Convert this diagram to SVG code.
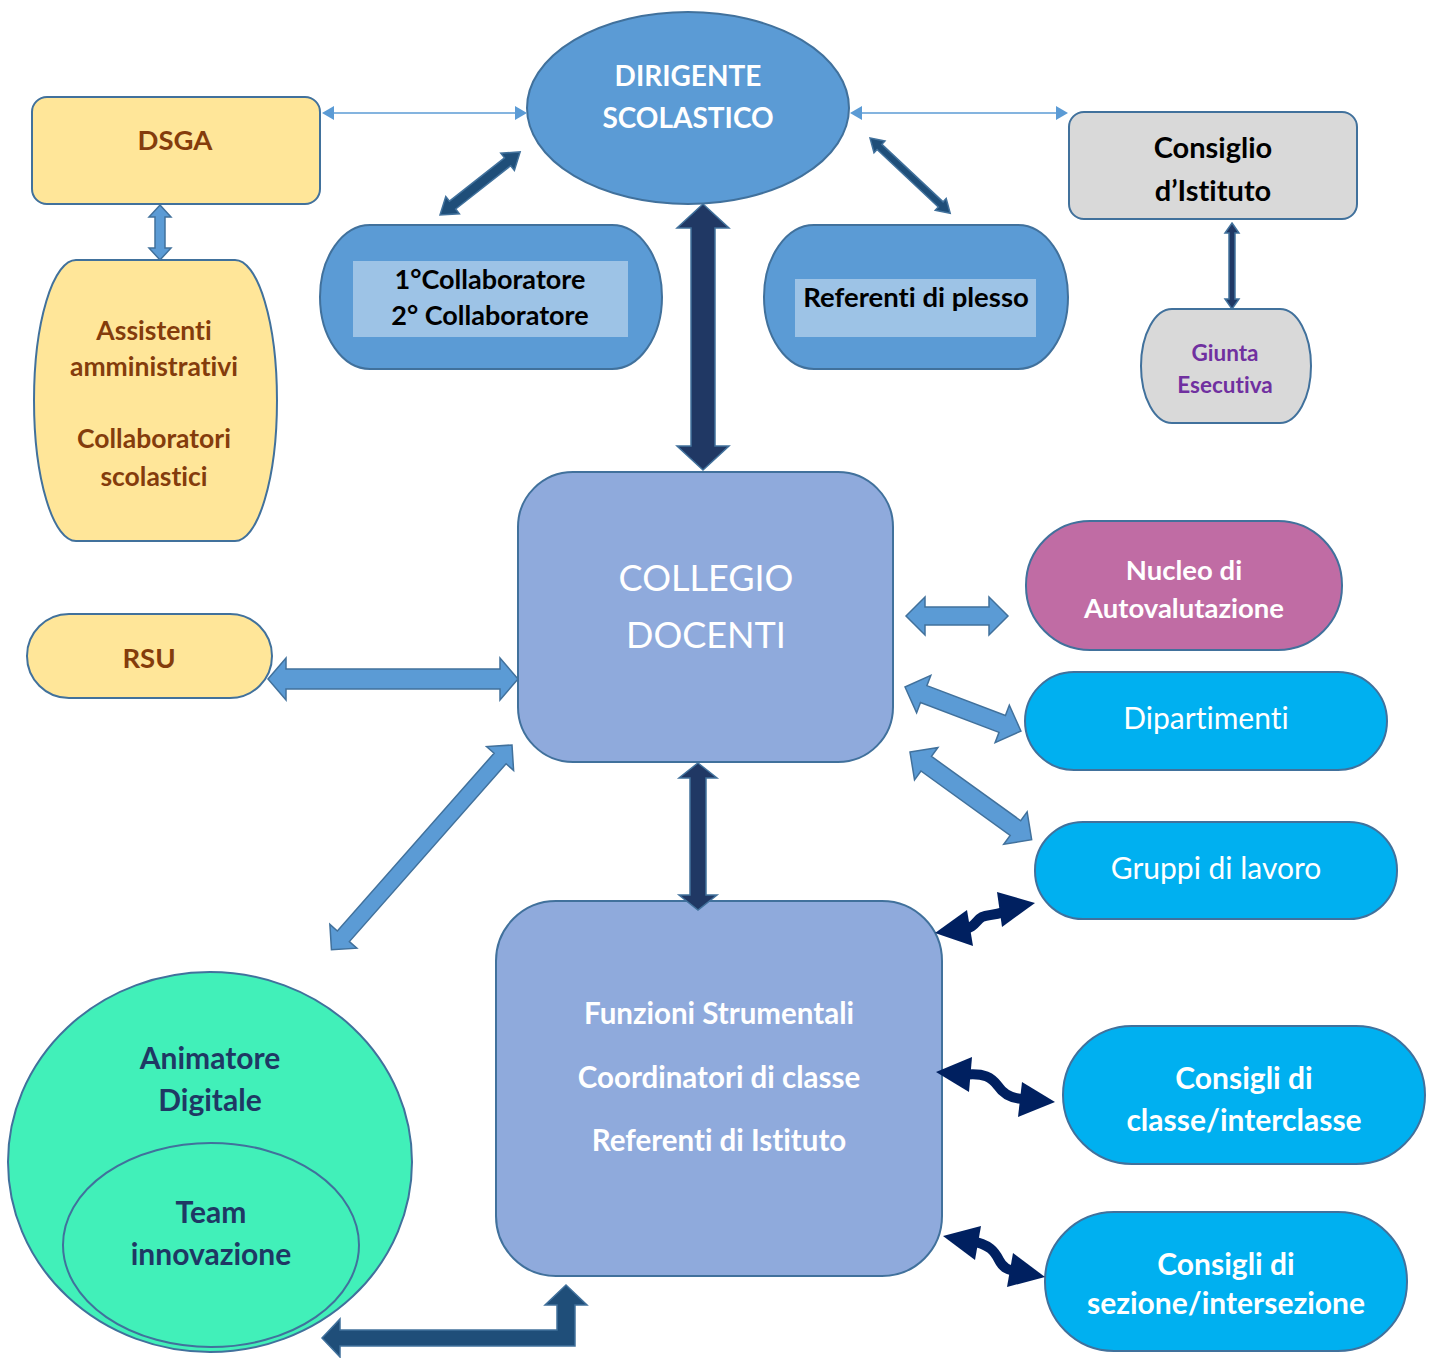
<svg xmlns="http://www.w3.org/2000/svg" width="1435" height="1358" viewBox="0 0 1435 1358">
<style>
text{font-family:Lato,"Open Sans","Liberation Sans",sans-serif;text-anchor:middle;font-variant-ligatures:none}
.b{font-weight:bold}
.node{stroke:#41719C;stroke-width:2}
.yel{fill:#FFE699}
.blue{fill:#5B9BD5}
.lav{fill:#8FAADC}
.cyan{fill:#00B0F0}
.grey{fill:#D9D9D9}
.brown{fill:#843C0C}
.wt{fill:#FFFFFF}
.arL{fill:#5B9BD5;stroke:#41719C;stroke-width:1.5}
.arD{fill:#1F4E79;stroke:#41719C;stroke-width:1.5}
.arN{fill:#203864;stroke:#41719C;stroke-width:1.5}
.wave{fill:none;stroke:#002060;stroke-width:10}
.wh{fill:#002060}
</style>
<rect width="1435" height="1358" fill="#FFFFFF"/>
<g id="dirigente">
  <ellipse class="node blue" cx="688" cy="108" rx="161" ry="96"/>
  <text class="b wt" x="688" y="86" font-size="28">DIRIGENTE</text>
  <text class="b wt" x="688" y="128" font-size="28">SCOLASTICO</text>
</g>
<g id="dsga">
  <rect class="node yel" x="32" y="97" width="288" height="107" rx="15"/>
  <text class="b brown" x="175" y="150" font-size="27.5">DSGA</text>
</g>
<g id="assistenti">
  <path class="node yel" d="M76,260 H235 A42,140.5 0 0 1 235,541 H76 A42,140.5 0 0 1 76,260 Z"/>
  <text class="b brown" x="154" y="340" font-size="26.5">Assistenti</text>
  <text class="b brown" x="154" y="376" font-size="26.5">amministrativi</text>
  <text class="b brown" x="154" y="448" font-size="26.5">Collaboratori</text>
  <text class="b brown" x="154" y="486" font-size="26.5">scolastici</text>
</g>
<g id="collaboratori">
  <path class="node blue" d="M370,225 H612 A50,72 0 0 1 612,369 H370 A50,72 0 0 1 370,225 Z"/>
  <rect x="353" y="261" width="275" height="76" fill="#9DC3E6"/>
  <text class="b" x="490" y="289" font-size="27" fill="#000">1°Collaboratore</text>
  <text class="b" x="490" y="325" font-size="27" fill="#000">2° Collaboratore</text>
</g>
<g id="referenti-plesso">
  <path class="node blue" d="M814,225 H1018 A50,72 0 0 1 1018,369 H814 A50,72 0 0 1 814,225 Z"/>
  <rect x="795" y="279" width="241" height="58" fill="#9DC3E6"/>
  <text class="b" x="916" y="307" font-size="27.5" fill="#000">Referenti di plesso</text>
</g>
<g id="consiglio">
  <rect class="node grey" x="1069" y="112" width="288" height="107" rx="15"/>
  <text class="b" x="1213" y="158" font-size="29" fill="#000">Consiglio</text>
  <text class="b" x="1213" y="201" font-size="29" fill="#000">d’Istituto</text>
</g>
<g id="giunta">
  <path class="node grey" d="M1172,309 H1280 A31,57 0 0 1 1280,423 H1172 A31,57 0 0 1 1172,309 Z"/>
  <text class="b" x="1225" y="361" font-size="22.5" fill="#7030A0">Giunta</text>
  <text class="b" x="1225" y="393" font-size="22.5" fill="#7030A0">Esecutiva</text>
</g>
<g id="collegio">
  <rect class="node lav" x="518" y="472" width="375" height="290" rx="55"/>
  <text class="wt" x="706" y="591" font-size="36">COLLEGIO</text>
  <text class="wt" x="706" y="648" font-size="36">DOCENTI</text>
</g>
<g id="rsu">
  <rect class="node yel" x="27" y="614" width="245" height="84" rx="42"/>
  <text class="b brown" x="149" y="668" font-size="27.5">RSU</text>
</g>
<g id="nucleo">
  <rect class="node" fill="#C06CA4" x="1026" y="521" width="316" height="129" rx="64"/>
  <text class="b wt" x="1184" y="580" font-size="27.5">Nucleo di</text>
  <text class="b wt" x="1184" y="618" font-size="27.5">Autovalutazione</text>
</g>
<g id="dipartimenti">
  <rect class="node cyan" x="1025" y="672" width="362" height="98" rx="49"/>
  <text class="wt" x="1206" y="729" font-size="30">Dipartimenti</text>
</g>
<g id="gruppi">
  <rect class="node cyan" x="1035" y="822" width="362" height="97" rx="48"/>
  <text class="wt" x="1216" y="879" font-size="30">Gruppi di lavoro</text>
</g>
<g id="funzioni">
  <rect class="node lav" x="496" y="901" width="446" height="375" rx="60"/>
  <text class="b wt" x="719" y="1024" font-size="29.5">Funzioni Strumentali</text>
  <text class="b wt" x="719" y="1088" font-size="29.5">Coordinatori di classe</text>
  <text class="b wt" x="719" y="1151" font-size="29.5">Referenti di Istituto</text>
</g>
<g id="consigli-classe">
  <rect class="node cyan" x="1063" y="1026" width="362" height="138" rx="69"/>
  <text class="b wt" x="1244" y="1089" font-size="30">Consigli di</text>
  <text class="b wt" x="1244" y="1131" font-size="30">classe/interclasse</text>
</g>
<g id="consigli-sezione">
  <rect class="node cyan" x="1045" y="1212" width="362" height="139" rx="69"/>
  <text class="b wt" x="1226" y="1275" font-size="30">Consigli di</text>
  <text class="b wt" x="1226" y="1314" font-size="30">sezione/intersezione</text>
</g>
<g id="animatore">
  <ellipse class="node" fill="#41F0B9" cx="210" cy="1162" rx="202" ry="190"/>
  <text class="b" x="210" y="1069" font-size="30" fill="#1F3864">Animatore</text>
  <text class="b" x="210" y="1111" font-size="30" fill="#1F3864">Digitale</text>
  <g id="team">
    <ellipse class="node" fill="#41F0B9" cx="211" cy="1245" rx="148" ry="102"/>
    <text class="b" x="211" y="1223" font-size="30" fill="#1F3864">Team</text>
    <text class="b" x="211" y="1265" font-size="30" fill="#1F3864">innovazione</text>
  </g>
</g>
<g id="connectors">
  <line x1="332" y1="113" x2="517" y2="113" stroke="#5B9BD5" stroke-width="1.5"/>
  <polygon points="322,113 334,106 334,120" fill="#5B9BD5"/>
  <polygon points="527,113 515,106 515,120" fill="#5B9BD5"/>
  <line x1="860" y1="113" x2="1058" y2="113" stroke="#5B9BD5" stroke-width="1.5"/>
  <polygon points="850,113 862,106 862,120" fill="#5B9BD5"/>
  <polygon points="1068,113 1056,106 1056,120" fill="#5B9BD5"/>
  <polygon class="arL" transform="translate(160,205) rotate(90)" points="0,0 12,-11 12,-5 43,-5 43,-11 55,0 43,11 43,5 12,5 12,11"/>
  <polygon class="arD" transform="translate(440,215) rotate(-38.2)" points="0,0 16,-11 16,-5 86,-5 86,-11 102,0 86,11 86,5 16,5 16,11"/>
  <polygon class="arD" transform="translate(870,138) rotate(43.2)" points="0,0 13,-8 13,-3.5 97,-3.5 97,-8 110,0 97,8 97,3.5 13,3.5 13,8"/>
  <polygon class="arN" transform="translate(703,204) rotate(90)" points="0,0 24,-26 24,-12 242,-12 242,-26 266,0 242,26 242,12 24,12 24,26"/>
  <polygon class="arN" transform="translate(1232,223) rotate(90)" points="0,0 10,-7 10,-3 76,-3 76,-7 86,0 76,7 76,3 10,3 10,7"/>
  <polygon class="arL" transform="translate(268,679)" points="0,0 18,-21 18,-10 232,-10 232,-21 250,0 232,21 232,10 18,10 18,21"/>
  <polygon class="arL" transform="translate(906,616)" points="0,0 19,-19 19,-9 83,-9 83,-19 102,0 83,19 83,9 19,9 19,19"/>
  <polygon class="arL" transform="translate(905,687) rotate(20.8)" points="0,0 20,-20 20,-9 104,-9 104,-20 124,0 104,20 104,9 20,9 20,20"/>
  <polygon class="arL" transform="translate(910,752) rotate(35.8)" points="0,0 20,-20 20,-9 130,-9 130,-20 150,0 130,20 130,9 20,9 20,20"/>
  <polygon class="arN" transform="translate(698,763) rotate(90)" points="0,0 15,-19 15,-8 132,-8 132,-19 147,0 132,19 132,8 15,8 15,19"/>
  <polygon class="arL" transform="translate(512,745) rotate(131.4)" points="0,0 18,-18 18,-8 255,-8 255,-18 273,0 255,18 255,8 18,8 18,18"/>
  <polygon class="arD" points="322,1338 340,1319 340,1330 557,1330 557,1305 545,1305 566,1285 587,1305 575,1305 575,1346 340,1346 340,1357"/>
  <path class="wave" d="M962,930 C975,928 976,920 982,917 C988,914 992,916 1004,912"/>
  <polygon class="wh" points="935,933 967,910 973,946"/>
  <polygon class="wh" points="1035,903 997,892 1002,927"/>
  <path class="wave" d="M962,1075 C985,1072 992,1078 998,1086 C1004,1095 1012,1099 1025,1099"/>
  <polygon class="wh" points="936,1072 972,1057 969,1092"/>
  <polygon class="wh" points="1055,1102 1022,1082 1018,1117"/>
  <path class="wave" d="M970,1241 C990,1244 995,1252 999,1260 C1003,1268 1008,1270 1018,1272"/>
  <polygon class="wh" points="943,1236 981,1226 975,1260"/>
  <polygon class="wh" points="1045,1277 1013,1253 1007,1287"/>
</g>
</svg>
